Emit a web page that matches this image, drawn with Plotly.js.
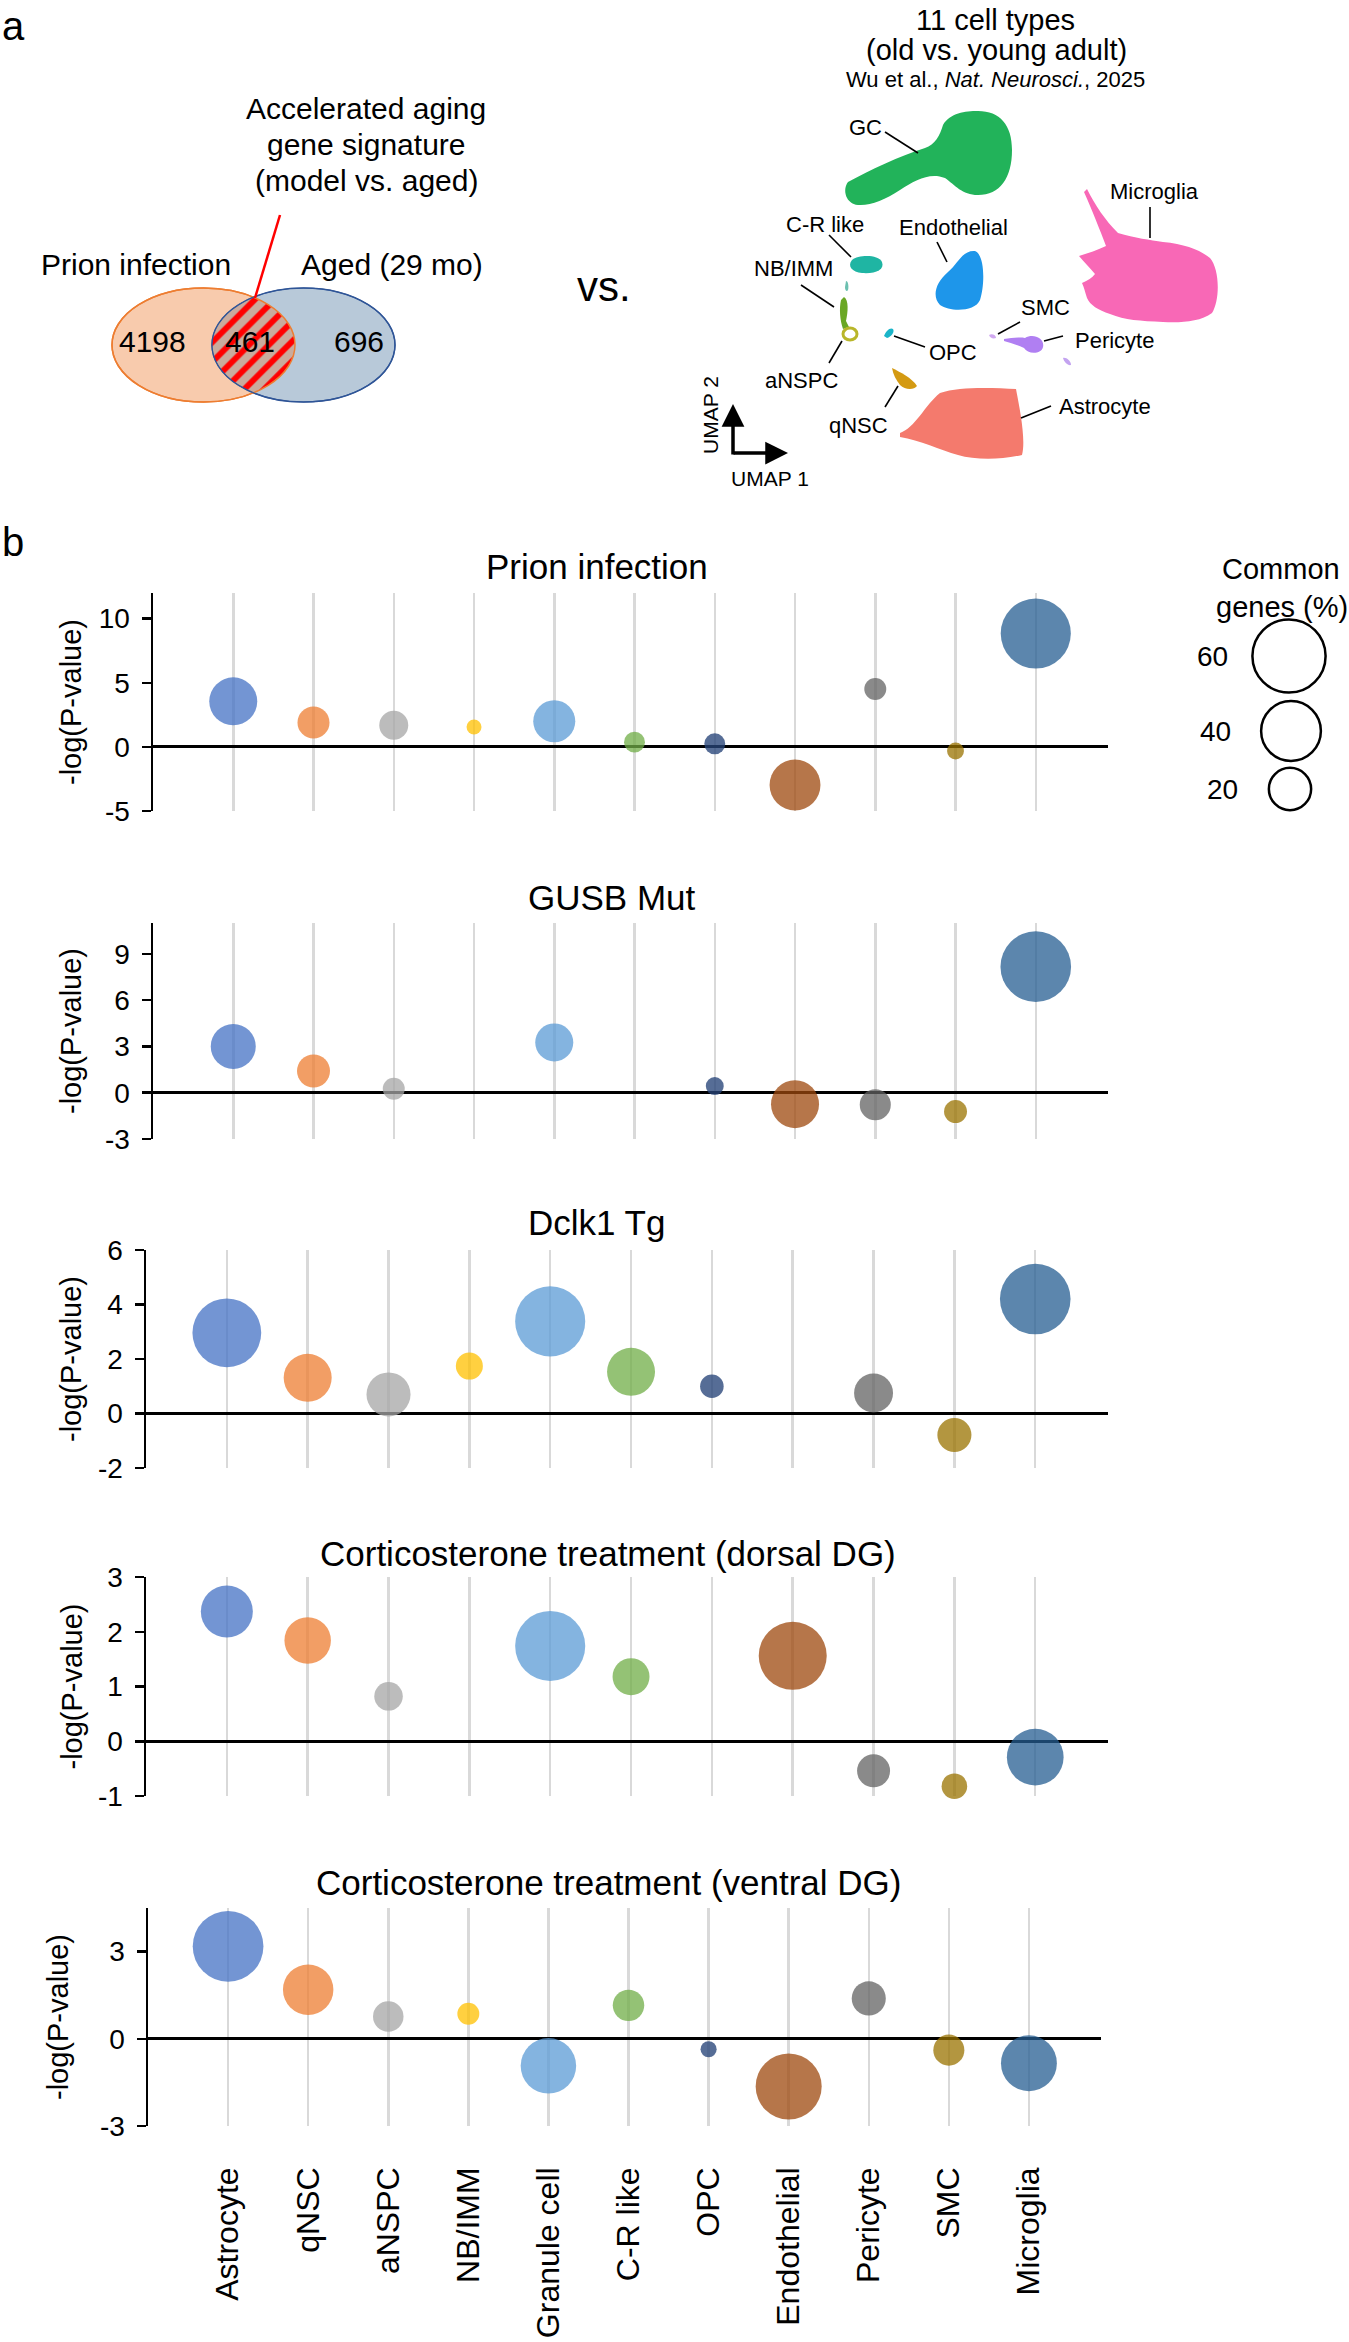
<!DOCTYPE html>
<html>
<head>
<meta charset="utf-8">
<script src="https://cdn.plot.ly/plotly-3.0.1.min.js"></script>
<style>
  html, body { margin: 0; padding: 0; background: #ffffff; }
  #chart { width: 1349px; height: 2342px; }
</style>
</head>
<body>
<div id="chart"></div>
<script>
// ---------------- DATA ----------------
const cellTypes = ['Astrocyte', 'qNSC', 'aNSPC', 'NB/IMM', 'Granule cell', 'C-R like', 'OPC', 'Endothelial', 'Pericyte', 'SMC', 'Microglia'];
const cellColors = ['rgba(68,114,196,0.75)', 'rgba(237,125,49,0.75)', 'rgba(165,165,165,0.75)', 'rgba(255,192,0,0.75)',
  'rgba(91,155,213,0.75)', 'rgba(112,173,71,0.75)', 'rgba(38,68,120,0.78)', 'rgba(158,72,14,0.75)',
  'rgba(99,99,99,0.75)', 'rgba(153,115,0,0.75)', 'rgba(37,94,145,0.75)'];

// -log(P-value) per cell type (null = not shown)
const prionLogP   = [3.55, 1.90, 1.68, 1.55, 2.00, 0.37, 0.24, -2.97, 4.52, -0.32, 8.84];
const gusbLogP    = [3.00, 1.41, 0.26, null, 3.26, null, 0.43, -0.74, -0.78, -1.22, 8.17];
const dclkLogP    = [2.96, 1.31, 0.70, 1.74, 3.38, 1.53, 1.00, null, 0.75, -0.79, 4.20];
const dorsalLogP  = [2.37, 1.84, 0.82, null, 1.74, 1.18, null, 1.56, -0.54, -0.82, -0.29];
const ventralLogP = [3.18, 1.69, 0.77, 0.86, -0.93, 1.15, -0.36, -1.64, 1.39, -0.39, -0.84];

// Common genes (%) per cell type (bubble size)
const prionCommon   = [25.8, 11.5, 9.4, 2.5, 19.8, 4.9, 4.9, 29.0, 5.4, 3.2, 55.0];
const gusbCommon    = [22.7, 12.2, 5.4, null, 16.2, null, 3.6, 25.8, 10.8, 5.9, 55.8];
const dclkCommon    = [53.0, 25.8, 21.7, 8.2, 55.0, 25.8, 6.2, null, 17.0, 13.0, 55.8];
const dorsalCommon  = [30.3, 24.2, 9.1, null, 55.0, 15.3, null, 51.8, 12.2, 7.3, 36.0];
const ventralCommon = [56.0, 28.5, 10.4, 5.4, 34.5, 11.1, 2.9, 48.8, 13.0, 10.8, 35.0];

// y tick values per panel
const prionTicks   = [-5, 0, 5, 10];
const gusbTicks    = [-3, 0, 3, 6, 9];
const dclkTicks    = [-2, 0, 2, 4, 6];
const dorsalTicks  = [-1, 0, 1, 2, 3];
const ventralTicks = [-3, 0, 3];

// bubble legend values (%)
const legendValues = [60, 40, 20];

// Venn counts
const vennCounts = ['4198', '461', '696'];

// ---------------- LAYOUT HELPERS ----------------
const W = 1349, H = 2342;
const FONT = 'Liberation Sans, Arial, sans-serif';
const K = 9.45;                       // px of diameter per sqrt(%)
const bubbleD = v => K * Math.sqrt(v);

const panels = [
  { title: 'Prion infection', logP: prionLogP, common: prionCommon, ticks: prionTicks, range: [-5, 12], px: [153, 1108], py: [593, 811], tx: 597, ty: 566, ytx: 71 },
  { title: 'GUSB Mut', logP: gusbLogP, common: gusbCommon, ticks: gusbTicks, range: [-3, 11], px: [153, 1108], py: [923, 1139], tx: 612, ty: 897, ytx: 71 },
  { title: 'Dclk1 Tg', logP: dclkLogP, common: dclkCommon, ticks: dclkTicks, range: [-2, 6], px: [146, 1108], py: [1250, 1468], tx: 596, ty: 1222, ytx: 71 },
  { title: 'Corticosterone treatment (dorsal DG)', logP: dorsalLogP, common: dorsalCommon, ticks: dorsalTicks, range: [-1, 3], px: [146, 1108], py: [1577, 1796], tx: 608, ty: 1553, ytx: 71 },
  { title: 'Corticosterone treatment (ventral DG)', logP: ventralLogP, common: ventralCommon, ticks: ventralTicks, range: [-3, 4.5], px: [148, 1101], py: [1908, 2126], tx: 608, ty: 1882, ytx: 58 }
];

const traces = [];
const layout = {
  width: W, height: H,
  margin: { l: 0, r: 0, t: 0, b: 0, pad: 0 },
  paper_bgcolor: '#ffffff',
  plot_bgcolor: 'rgba(0,0,0,0)',
  showlegend: false,
  font: { family: FONT, color: '#000000' },
  annotations: [],
  shapes: []
};

const catX = cellTypes.map((c, i) => i + 1);

panels.forEach((p, i) => {
  const k = i === 0 ? '' : String(i + 1);
  const last = i === panels.length - 1;
  const xs = [], ys = [], sz = [], cl = [];
  cellTypes.forEach((c, j) => {
    if (p.logP[j] !== null) {
      xs.push(catX[j]); ys.push(p.logP[j]); sz.push(bubbleD(p.common[j])); cl.push(cellColors[j]);
    }
  });
  traces.push({
    type: 'scatter', mode: 'markers', x: xs, y: ys,
    xaxis: 'x' + k, yaxis: 'y' + k,
    marker: { size: sz, color: cl, opacity: 1, line: { width: 0 } },
    cliponaxis: false, hoverinfo: 'skip'
  });
  layout['xaxis' + k] = {
    domain: [p.px[0] / W, p.px[1] / W], range: [0, 11.9], anchor: 'y' + k,
    tickvals: catX, ticktext: cellTypes, showticklabels: last,
    tickangle: -90, tickfont: { size: 32, family: FONT, color: '#000' },
    ticks: '', ticklabelstandoff: 34,
    showgrid: true, gridcolor: '#d9d9d9', gridwidth: 2.5,
    zeroline: false, showline: false, fixedrange: true
  };
  layout['yaxis' + k] = {
    domain: [1 - p.py[1] / H, 1 - p.py[0] / H], range: p.range, anchor: 'x' + k,
    tickvals: p.ticks, ticktext: p.ticks.map(String),
    tickfont: { size: 28, family: FONT, color: '#000' },
    ticks: 'outside', ticklen: 9, tickwidth: 2.5, tickcolor: '#000',
    ticklabelstandoff: 6,
    showline: true, linecolor: '#000', linewidth: 2.5,
    showgrid: false, zeroline: true, zerolinecolor: '#000', zerolinewidth: 3,
    fixedrange: true
  };
  layout.annotations.push({
    xref: 'x6', yref: 'y6', x: p.tx, y: p.ty, text: p.title, showarrow: false,
    xanchor: 'center', yanchor: 'middle', font: { size: 35, family: FONT, color: '#000' }
  });
  layout.annotations.push({
    xref: 'x6', yref: 'y6', x: p.ytx, y: (p.py[0] + p.py[1]) / 2, text: '-log(P-value)', showarrow: false,
    textangle: -90, xanchor: 'center', yanchor: 'middle', font: { size: 29, family: FONT, color: '#000' }
  });
});

// pixel overlay axes for the diagram parts
layout.xaxis6 = { domain: [0, 1], range: [0, W], visible: false, fixedrange: true, anchor: 'y6' };
layout.yaxis6 = { domain: [0, 1], range: [H, 0], visible: false, fixedrange: true, anchor: 'x6' };

const S = layout.shapes, A = layout.annotations;
function txt(x, y, text, size, extra) {
  A.push(Object.assign({ xref: 'x6', yref: 'y6', x: x, y: y, text: text, showarrow: false,
    xanchor: 'center', yanchor: 'middle', font: { size: size, family: FONT, color: '#000' } }, extra || {}));
}
function line(x0, y0, x1, y1, color, w) {
  S.push({ type: 'line', xref: 'x6', yref: 'y6', x0: x0, y0: y0, x1: x1, y1: y1, line: { color: color || '#000', width: w || 1.6 }, layer: 'above' });
}
function blob(path, color) {
  S.push({ type: 'path', xref: 'x6', yref: 'y6', path: path, fillcolor: color, line: { width: 0 }, layer: 'below' });
}

// ---------------- panel labels ----------------
txt(0, 2, 'a', 40, { xanchor: 'left', yanchor: 'top' });
txt(0, 542, 'b', 40, { xanchor: 'left' });

// ---------------- Venn diagram ----------------
const e1 = { cx: 203.5, cy: 345, rx: 91.5, ry: 57 };
const e2 = { cx: 303.5, cy: 345, rx: 91.5, ry: 57 };
S.push({ type: 'circle', xref: 'x6', yref: 'y6', x0: e1.cx - e1.rx, x1: e1.cx + e1.rx, y0: e1.cy - e1.ry, y1: e1.cy + e1.ry,
  fillcolor: '#f8cbad', line: { color: '#ed7d31', width: 1.5 }, layer: 'below' });
S.push({ type: 'circle', xref: 'x6', yref: 'y6', x0: e2.cx - e2.rx, x1: e2.cx + e2.rx, y0: e2.cy - e2.ry, y1: e2.cy + e2.ry,
  fillcolor: '#b8c9d9', line: { color: '#2f5597', width: 1.5 }, layer: 'below' });
// lens (intersection) with red hatch
(function () {
  const xm = (e1.cx + e2.cx) / 2;
  const a = Math.acos((xm - e1.cx) / e1.rx);
  const lx = [], ly = [];
  const n = 40;
  for (let i = 0; i <= n; i++) { const t = -a + 2 * a * i / n; lx.push(e1.cx + e1.rx * Math.cos(t)); ly.push(e1.cy + e1.ry * Math.sin(t)); }
  for (let i = 0; i <= n; i++) { const t = Math.PI - a + 2 * a * i / n; lx.push(e2.cx + e2.rx * Math.cos(t)); ly.push(e2.cy + e2.ry * Math.sin(t)); }
  traces.push({ type: 'scatter', mode: 'lines', x: lx, y: ly, xaxis: 'x6', yaxis: 'y6', fill: 'toself',
    fillcolor: '#c9ab9d', line: { width: 0 },
    fillpattern: { shape: '/', fgcolor: '#ff0000', bgcolor: '#c9ab9d', size: 14, solidity: 0.42 },
    hoverinfo: 'skip' });
})();
S.push({ type: 'circle', xref: 'x6', yref: 'y6', x0: e1.cx - e1.rx, x1: e1.cx + e1.rx, y0: e1.cy - e1.ry, y1: e1.cy + e1.ry,
  fillcolor: 'rgba(0,0,0,0)', line: { color: '#ed7d31', width: 1.5 }, layer: 'above' });
S.push({ type: 'circle', xref: 'x6', yref: 'y6', x0: e2.cx - e2.rx, x1: e2.cx + e2.rx, y0: e2.cy - e2.ry, y1: e2.cy + e2.ry,
  fillcolor: 'rgba(0,0,0,0)', line: { color: '#2f5597', width: 1.2 }, layer: 'above' });
line(280, 215, 255, 298, '#ff0000', 2.5);
txt(152, 341, vennCounts[0], 30);
txt(250, 341, vennCounts[1], 30);
txt(359, 341, vennCounts[2], 30);
txt(136, 264, 'Prion infection', 30);
txt(392, 264, 'Aged (29 mo)', 30);
txt(366, 108, 'Accelerated aging', 30);
txt(366, 144, 'gene signature', 30);
txt(366, 180, '(model vs. aged)', 30);
txt(604, 286, 'vs.', 42);

// ---------------- UMAP sketch ----------------
txt(995, 2, '11 cell types', 29, { yanchor: 'top' });
txt(996, 50, '(old vs. young adult)', 29);
txt(995, 79, 'Wu et al., <i>Nat. Neurosci.</i>, 2025', 22);

blob('M 848,182 C 870,170 900,156 925,148 C 935,145 940,135 943,125 C 950,113 965,111 978,111 C 1000,111 1012,125 1012,150 C 1012,178 1000,195 978,195 C 962,195 955,185 945,178 C 930,172 915,180 900,190 C 885,200 870,206 858,205 C 846,204 842,190 848,182 Z', '#22b35a');
blob('M 1087,189 C 1095,205 1105,220 1118,233 C 1135,238 1150,240 1163,242 C 1185,244 1200,250 1210,258 C 1220,270 1220,300 1212,313 C 1200,322 1180,323 1163,322 C 1140,321 1125,320 1110,314 C 1098,310 1090,305 1087,298 C 1085,292 1084,287 1082,283 C 1088,280 1092,278 1095,274 C 1090,268 1084,262 1079,256 C 1088,253 1098,250 1106,246 C 1100,230 1092,210 1084,192 Z', '#f868b6');
blob('M 975,251 C 985,255 985,285 980,300 C 975,312 950,312 940,305 C 932,297 935,283 948,272 C 958,264 962,250 975,251 Z', '#1e96ea');
blob('M 852,260 C 858,255 878,254 882,262 C 885,270 875,274 862,273 C 852,272 847,266 852,260 Z', '#1fb5a3');
blob('M 846,281 C 848,281 849,286 848,290 C 847,292 845,291 845,287 Z', '#6cc0b0');
blob('M 844,297 C 849,300 848,312 846,321 L 849,327 L 843,329 C 840,320 839,309 841,300 Z', '#6aa724');
S.push({ type: 'circle', xref: 'x6', yref: 'y6', x0: 843, x1: 857, y0: 328, y1: 340, fillcolor: 'rgba(0,0,0,0)', line: { color: '#b9b62a', width: 3 }, layer: 'below' });
blob('M 884,336 C 886,331 890,327 893,329 C 895,332 891,337 887,338 Z', '#1bb5c9');
blob('M 989,335 C 992,333 996,335 996,338 C 993,339 990,338 989,335 Z', '#d0a8f0');
blob('M 1004,339 C 1012,338 1020,337 1025,338 C 1033,333 1045,338 1043,347 C 1042,354 1028,355 1024,348 C 1018,345 1010,343 1004,341 Z', '#b07ff2');
blob('M 1063,358 C 1066,357 1071,361 1071,365 C 1068,366 1064,362 1063,358 Z', '#c3a3f0');
blob('M 892,368 C 900,372 912,378 917,386 C 914,390 905,390 900,385 C 896,380 893,374 892,368 Z', '#d49a12');
blob('M 900,433 C 915,428 925,405 940,393 C 960,386 995,388 1016,389 C 1020,410 1026,440 1022,455 C 1000,460 975,460 958,455 C 940,450 920,440 900,437 Z', '#f47a6d');

// labels + leader lines
txt(865, 127, 'GC', 22);          line(885, 132, 918, 153);
txt(1154, 191, 'Microglia', 22);  line(1150, 207, 1150, 238);
txt(953, 227, 'Endothelial', 22); line(937, 242, 947, 262);
txt(825, 224, 'C-R like', 22);    line(829, 235, 851, 257);
txt(793, 268, 'NB/IMM', 22);      line(801, 285, 834, 307);
txt(801, 380, 'aNSPC', 22);       line(829, 363, 842, 341);
txt(953, 352, 'OPC', 22);         line(894, 336, 925, 347);
txt(1045, 307, 'SMC', 22);        line(998, 334, 1020, 322);
txt(1114, 340, 'Pericyte', 22);   line(1044, 341, 1063, 336);
txt(858, 425, 'qNSC', 22);        line(885, 407, 898, 386);
txt(1105, 406, 'Astrocyte', 22);  line(1021, 418, 1051, 406);

// UMAP axes arrows
A.push({ xref: 'x6', yref: 'y6', x: 733, y: 404, ax: 0, ay: 52, axref: 'pixel', ayref: 'pixel', text: '', showarrow: true, arrowhead: 2, arrowsize: 1.3, arrowwidth: 3.5, arrowcolor: '#000' });
A.push({ xref: 'x6', yref: 'y6', x: 788, y: 453, ax: -56, ay: 0, axref: 'pixel', ayref: 'pixel', text: '', showarrow: true, arrowhead: 2, arrowsize: 1.3, arrowwidth: 3.5, arrowcolor: '#000' });
txt(710, 415, 'UMAP 2', 21, { textangle: -90 });
txt(770, 478, 'UMAP 1', 21);

// ---------------- bubble size legend ----------------
txt(1281, 569, 'Common', 29);
txt(1282, 607, 'genes (%)', 29);
const legendY = [656, 731, 789];
const legendX = [1289, 1291, 1290];
const legendLabelX = [1212, 1215, 1222];
legendValues.forEach((v, i) => {
  const r = bubbleD(v) / 2;
  S.push({ type: 'circle', xref: 'x6', yref: 'y6', x0: legendX[i] - r, x1: legendX[i] + r, y0: legendY[i] - r, y1: legendY[i] + r,
    fillcolor: 'rgba(0,0,0,0)', line: { color: '#000', width: 2.5 }, layer: 'above' });
  txt(legendLabelX[i], legendY[i], String(v), 28);
});

Plotly.newPlot('chart', traces, layout, { displayModeBar: false, staticPlot: true });
</script>
</body>
</html>
